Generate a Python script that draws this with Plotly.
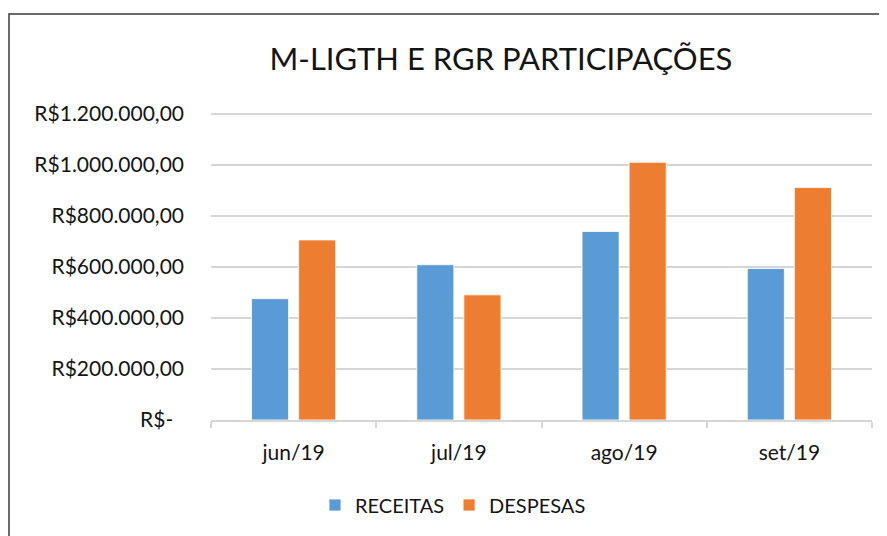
import plotly.graph_objects as go

# Data
categories = ["jun/19", "jul/19", "ago/19", "set/19"]
receitas = [475000, 608000, 738000, 593000]
despesas = [705000, 490000, 1009000, 910000]
y_tickvals = [0, 200000, 400000, 600000, 800000, 1000000, 1200000]
y_ticktext = ["R$-\u00a0\u00a0", "R$200.000,00", "R$400.000,00", "R$600.000,00",
              "R$800.000,00", "R$1.000.000,00", "R$1.200.000,00"]
title_text = "M-LIGTH E RGR PARTICIPAÇÕES"

# the page body adds an 8px offset; work in reference pixels minus 8
OFF = 8
W, H = 887 - OFF, 536 - OFF
L = 211 - OFF
R = W - (872 - OFF)
B = H - (420 - OFF)
T = 104
plot_w = W - L - R
plot_h = H - T - B

FONT = "Lato, 'Liberation Sans', Arial, sans-serif"
TXT = "#141414"
GRID = "#D6D6D6"

fig = go.Figure()
fig.add_trace(go.Bar(name="RECEITAS", x=categories, y=receitas,
                     marker=dict(color="#5B9BD5", line=dict(color="#ffffff", width=0.8))))
fig.add_trace(go.Bar(name="DESPESAS", x=categories, y=despesas,
                     marker=dict(color="#ED7D31", line=dict(color="#ffffff", width=0.8))))


def px_x(p):
    return (p - OFF - L) / plot_w


def px_y(p):
    return (H - B - (p - OFF)) / plot_h


# chart frame (cropped on the right and bottom)
fig.add_shape(type="rect", xref="paper", yref="paper",
              x0=px_x(9), x1=px_x(995), y0=px_y(560), y1=px_y(14),
              line=dict(color="#3a3a3a", width=1.5), fillcolor="rgba(0,0,0,0)", layer="below")

fig.update_layout(
    width=W, height=H,
    margin=dict(l=L, r=R, t=T, b=B, pad=0),
    paper_bgcolor="white", plot_bgcolor="white",
    barmode="group", bargap=0.43, bargroupgap=0.213,
    title=dict(text=title_text, x=(501 - OFF) / W, xref="container", xanchor="center",
               y=1 - (59 - OFF) / H, yref="container", yanchor="middle",
               font=dict(family=FONT, size=31, color=TXT)),
    font=dict(family=FONT, size=21, color=TXT),
    showlegend=True,
    legend=dict(orientation="h", x=px_x(315), xanchor="left",
                y=px_y(505), yanchor="middle",
                font=dict(family=FONT, size=20, color=TXT),
                itemwidth=30, traceorder="normal",
                bgcolor="rgba(0,0,0,0)"),
    xaxis=dict(type="category", showgrid=False, showline=True, linecolor=GRID, linewidth=1.6,
               ticks="outside", tickson="boundaries", ticklen=6, tickcolor=GRID, tickwidth=1.6,
               ticklabelstandoff=13,
               tickfont=dict(family=FONT, size=21, color=TXT)),
    yaxis=dict(range=[0, 1206000], tickvals=y_tickvals, ticktext=y_ticktext,
               showgrid=True, gridcolor=GRID, gridwidth=1.6, zeroline=False,
               showline=False, ticks="", ticklabelstandoff=26,
               tickfont=dict(family=FONT, size=21, color=TXT)),
)

fig.write_html("out.html")
